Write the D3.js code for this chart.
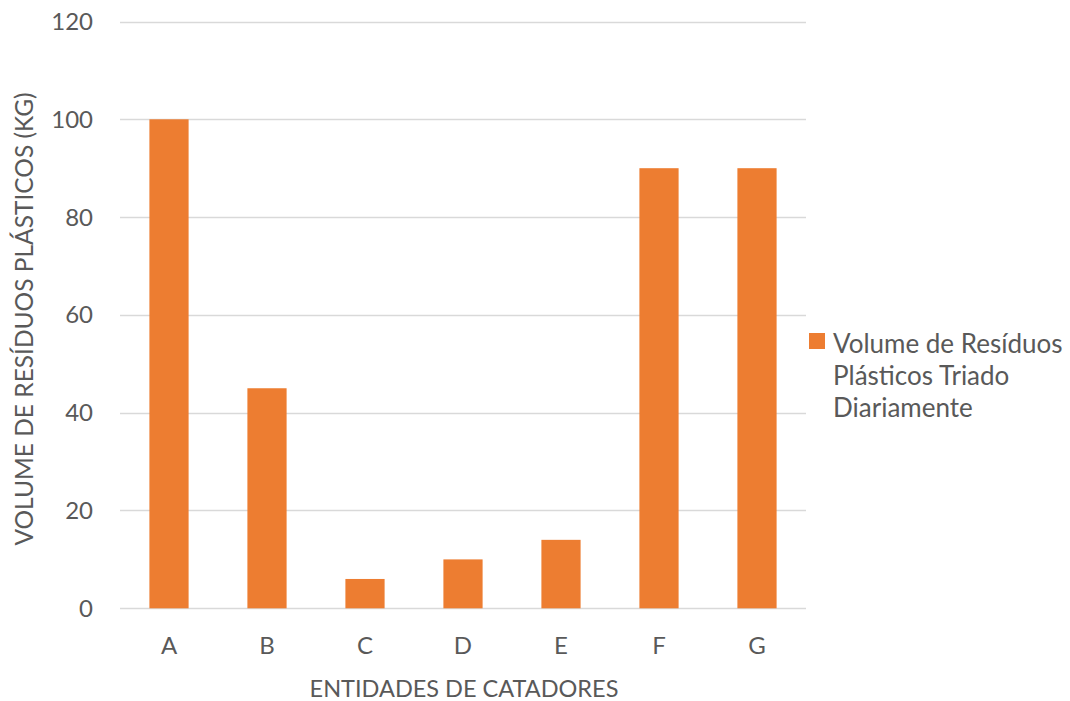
<!DOCTYPE html>
<html>
<head>
<meta charset="utf-8">
<script src="https://cdn.jsdelivr.net/npm/d3@7"></script>
<style>
  html, body { margin: 0; padding: 0; background: #fff; }
  svg text { font-family: Lato, "Open Sans", sans-serif; fill: #595959; }
</style>
</head>
<body>
<svg id="chart" width="1070" height="701"></svg>
<script>
// Daily sorted plastic waste per collector organisation (kg)
const categories = ["A", "B", "C", "D", "E", "F", "G"];
const volumes = [100, 45, 6, 10, 14, 90, 90];
const yTicks = [0, 20, 40, 60, 80, 100, 120];
const seriesName = ["Volume de Resíduos", "Plásticos Triado", "Diariamente"];
const xTitle = "ENTIDADES DE CATADORES";
const yTitle = "VOLUME DE RESÍDUOS PLÁSTICOS (KG)";

const svg = d3.select("#chart");
const plot = { left: 120, right: 806, top: 21.5, bottom: 608.3 };
const barColor = "#ED7D31";

const x = d3.scaleBand()
  .domain(categories)
  .range([plot.left, plot.right])
  .paddingInner(0.6)
  .paddingOuter(0.3);

const y = d3.scaleLinear()
  .domain([0, 120])
  .range([plot.bottom, plot.top]);

// Horizontal gridlines
svg.append("g")
  .selectAll("line")
  .data(yTicks)
  .join("line")
  .attr("x1", plot.left)
  .attr("x2", plot.right)
  .attr("y1", d => Math.round(y(d)) + 0.5)
  .attr("y2", d => Math.round(y(d)) + 0.5)
  .attr("stroke", "#d9d9d9")
  .attr("stroke-width", 1.3);

// Y tick labels
svg.append("g")
  .selectAll("text")
  .data(yTicks)
  .join("text")
  .attr("x", 93)
  .attr("y", d => y(d))
  .attr("dy", "0.35em")
  .attr("text-anchor", "end")
  .style("font-size", "24px")
  .text(d => d);

// Bars
svg.append("g")
  .selectAll("rect")
  .data(categories.map((c, i) => ({ c, v: volumes[i] })))
  .join("rect")
  .attr("x", d => x(d.c))
  .attr("width", x.bandwidth())
  .attr("y", d => y(d.v))
  .attr("height", d => y(0) - y(d.v))
  .attr("fill", barColor);

// Category labels
svg.append("g")
  .selectAll("text")
  .data(categories)
  .join("text")
  .attr("x", d => x(d) + x.bandwidth() / 2)
  .attr("y", 646)
  .attr("dy", "0.35em")
  .attr("text-anchor", "middle")
  .style("font-size", "24px")
  .text(d => d);

// Axis titles
svg.append("text")
  .attr("x", 464)
  .attr("y", 697)
  .attr("text-anchor", "middle")
  .style("font-size", "23.5px")
  .text(xTitle);

svg.append("text")
  .attr("transform", "translate(33, 319) rotate(-90)")
  .attr("text-anchor", "middle")
  .style("font-size", "24.5px")
  .text(yTitle);

// Legend
const legend = svg.append("g").attr("transform", "translate(809, 333)");
legend.append("rect")
  .attr("width", 16)
  .attr("height", 16)
  .attr("fill", barColor);
legend.selectAll("text")
  .data(seriesName)
  .join("text")
  .attr("x", 24)
  .attr("y", (d, i) => 20 + i * 32)
  .style("font-size", "26px")
  .text(d => d);
</script>
</body>
</html>
